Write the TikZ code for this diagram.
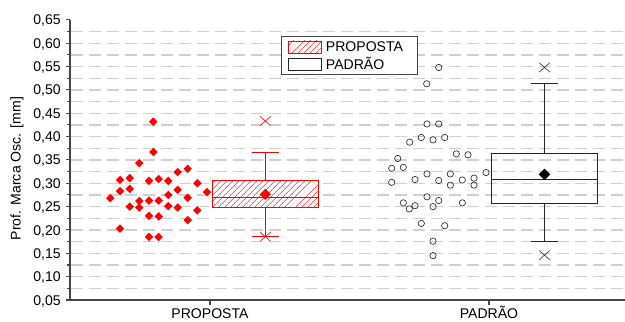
\documentclass[tikz,border=0pt]{standalone}
\usepackage{fontspec}
\setmainfont{Liberation Sans}
\usetikzlibrary{shapes.geometric,shapes.misc,patterns.meta}
\definecolor{axgray}{RGB}{70,70,70}
\definecolor{grdgray}{RGB}{208,208,208}
\tikzset{
  rdia/.style={diamond, aspect=1, fill=red, inner sep=0pt, minimum size=0.26cm},
  bcirc/.style={circle, draw=black!85, line width=0.55pt, inner sep=0pt, minimum size=0.19cm},
  xmk/.style={cross out, draw, line width=0.5pt, inner sep=0pt, minimum width=0.3cm, minimum height=0.26cm},
  hatch/.style={preaction={fill=white}, pattern={Lines[angle=45,distance=4pt,line width=0.45pt]}, pattern color=red},
  gridln/.style={grdgray, line width=1.1pt, dash pattern=on 0.36cm off 0.18cm},
  axln/.style={axgray, line width=0.9pt},
  lbl/.style={font=\fontsize{12}{14}\selectfont, inner sep=0pt},
  boxnd/.style={inner sep=0pt, line width=0.6pt, minimum width=3.17cm}
}

\begin{document}
\begin{tikzpicture}[x=0.03cm, y=14.01cm]
\useasboundingbox (0,0.005) rectangle (625,0.6924);

\foreach \k in {1,...,23} {
  \pgfmathsetmacro\v{0.05+0.025*\k}
  \draw[gridln] (71,\v) -- (625,\v);
}

\draw[axln] (70,0.65) -- (70,0.05) -- (625,0.05);
\foreach \v/\t in {0.05/05,0.10/10,0.15/15,0.20/20,0.25/25,0.30/30,0.35/35,0.40/40,0.45/45,0.50/50,0.55/55,0.60/60,0.65/65} {
  \draw[axln] (66,\v) -- (70,\v);
  \node[lbl, anchor=base east] (y\t) at (61,\v-0.0108) {0,\t};
}
\foreach \k in {1,...,12} {
  \pgfmathsetmacro\v{0.025+0.05*\k}
  \draw[axln] (67.3,\v) -- (70,\v);
}
\draw[axln] (210,0.05) -- (210,0.0393);
\draw[axln] (489,0.05) -- (489,0.0393);
\node[lbl, anchor=base] (xprop) at (210,0.0095) {PROPOSTA};
\node[lbl, anchor=base] (xpad) at (489,0.0095) {PADRÃO};
\node[lbl, rotate=90] (ytit) at (17,0.3316) {Prof. Marca Osc. [mm]};

\foreach \x/\v [count=\i] in {153.3/0.432,153.3/0.367,139.3/0.343,177.7/0.324,187.7/0.331,120/0.307,129.7/0.311,149/0.305,158.7/0.309,168.3/0.305,197.3/0.300,120/0.283,129.7/0.288,177.7/0.286,168.3/0.275,207/0.281,110.3/0.268,139.3/0.262,149/0.263,158.7/0.263,187.7/0.269,129.7/0.250,139.3/0.248,168.3/0.251,177.7/0.248,197.3/0.242,149/0.230,158.7/0.229,187.7/0.221,120/0.203,149/0.185,158.7/0.185}
  \node[rdia] (r\i) at (\x,\v) {};

\foreach \x/\v [count=\i] in {438.7/0.548,426.7/0.513,427/0.427,438.7/0.427,409.7/0.388,421.3/0.398,433/0.393,444.7/0.398,456.3/0.363,468/0.361,397.7/0.353,391.7/0.332,403.3/0.334,427/0.320,450.3/0.320,486/0.323,391.7/0.302,415/0.308,438.7/0.306,450.3/0.296,462.3/0.307,474/0.311,474/0.296,427/0.271,438.7/0.263,403.3/0.258,415/0.252,409.3/0.245,433/0.250,462.3/0.258,421.3/0.214,444.7/0.209,433/0.176,433/0.145}
  \node[bcirc] (b\i) at (\x,\v) {};

\node[boxnd, draw=red, hatch, minimum height=0.80cm] (rbox) at (265.3,0.277) {};
\coordinate (rmed) at (265.3,0.270);
\coordinate (rhi) at (265.3,0.367);
\coordinate (rlo) at (265.3,0.1856);
\draw[red, line width=0.6pt] (rbox.west |- rmed) -- (rbox.east |- rmed);
\draw[red, line width=0.6pt] (rbox) -- (rhi);
\draw[red, line width=0.6pt] (rbox) -- (rlo);
\draw[red, line width=0.6pt] ([xshift=-0.41cm]rhi) -- ([xshift=0.41cm]rhi);
\draw[red, line width=0.6pt] ([xshift=-0.41cm]rlo) -- ([xshift=0.41cm]rlo);
\node[rdia, minimum size=0.34cm] (rmean) at (265.3,0.2763) {};
\node[xmk, draw=red] (rmax) at (265.3,0.4333) {};
\node[xmk, draw=red] (rmin) at (rlo) {};

\node[boxnd, draw=black!85, minimum height=1.485cm] (bbox) at (544.5,0.310) {};
\coordinate (bmed) at (544.5,0.309);
\coordinate (bhi) at (544.5,0.514);
\coordinate (blo) at (544.5,0.176);
\draw[black!85, line width=0.6pt] (bbox.west |- bmed) -- (bbox.east |- bmed);
\draw[black!85, line width=0.6pt] (bbox) -- (bhi);
\draw[black!85, line width=0.6pt] (bbox) -- (blo);
\draw[black!85, line width=0.6pt] ([xshift=-0.415cm]bhi) -- ([xshift=0.415cm]bhi);
\draw[black!85, line width=0.6pt] ([xshift=-0.415cm]blo) -- ([xshift=0.415cm]blo);
\node[diamond, aspect=1, fill=black, inner sep=0pt, minimum size=0.35cm] (bmean) at (544.5,0.319) {};
\node[xmk, draw=black!85] (bmax) at (544.5,0.548) {};
\node[xmk, draw=black!85] (bmin) at (544.5,0.146) {};

\node[draw=axgray, fill=white, line width=0.8pt, inner sep=0pt, minimum width=4.1cm, minimum height=1.15cm] (leg) at (349.35,0.5743) {};
\node[draw=red, hatch, line width=0.5pt, inner sep=0pt, minimum width=1.0cm, minimum height=0.37cm] (legr) at (305,0.5915) {};
\node[draw=black!85, line width=0.5pt, inner sep=0pt, minimum width=1.0cm, minimum height=0.37cm] (legb) at (305,0.5543) {};
\node[lbl, anchor=base west] (legrt) at (325.7,0.5817) {PROPOSTA};
\node[lbl, anchor=base west] (legbt) at (325.7,0.544) {PADRÃO};
\end{tikzpicture}
\end{document}
